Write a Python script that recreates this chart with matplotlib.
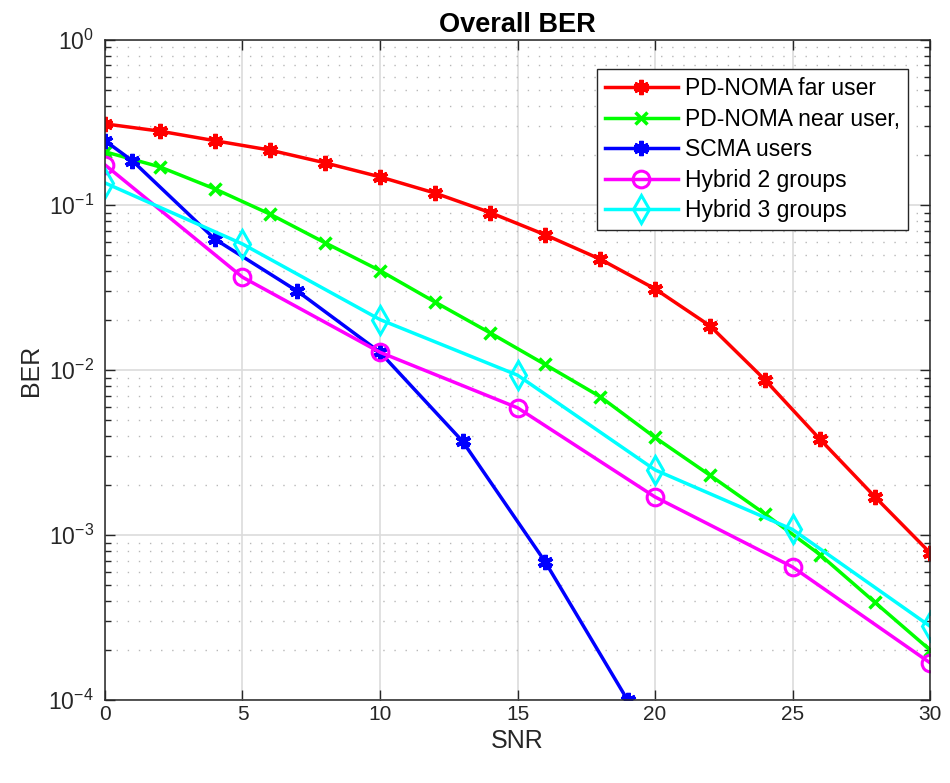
import numpy as np
import matplotlib
matplotlib.use("Agg")
import matplotlib.pyplot as plt
from matplotlib.ticker import LogLocator, MultipleLocator

plt.rcParams['font.family'] = ['Liberation Sans', 'DejaVu Sans']
plt.rcParams['mathtext.fontset'] = 'custom'
plt.rcParams['mathtext.rm'] = 'Liberation Sans'
plt.rcParams['mathtext.it'] = 'Liberation Sans:italic'

# SNR points per curve
snr_far = [0, 2, 4, 6, 8, 10, 12, 14, 16, 18, 20, 22, 24, 26, 28, 30]
ber_far = [0.31, 0.28, 0.245, 0.215, 0.18, 0.148, 0.118, 0.090, 0.066, 0.047,
           0.031, 0.0185, 0.0087, 0.0038, 0.0017, 0.00078]

snr_near = [0, 2, 4, 6, 8, 10, 12, 14, 16, 18, 20, 22, 24, 26, 28, 30]
ber_near = [0.21, 0.17, 0.125, 0.088, 0.059, 0.040, 0.0258, 0.0168, 0.0108, 0.0069,
            0.0039, 0.0023, 0.00134, 0.00076, 0.00039, 0.000201]

snr_scma = [0, 1, 4, 7, 10, 13, 16, 19]
ber_scma = [0.245, 0.185, 0.062, 0.030, 0.0128, 0.0037, 0.00069, 0.0001]

snr_h2 = [0, 5, 10, 15, 20, 25, 30]
ber_h2 = [0.175, 0.0365, 0.0128, 0.0059, 0.0017, 0.00064, 0.000168]

snr_h3 = [0, 5, 10, 15, 20, 25, 30]
ber_h3 = [0.136, 0.058, 0.0202, 0.0093, 0.00248, 0.00108, 0.00028]

labels = ['PD-NOMA far user', 'PD-NOMA near user,', 'SCMA users',
          'Hybrid 2 groups', 'Hybrid 3 groups']

fig = plt.figure(figsize=(9.5, 7.83), dpi=100)
ax = fig.add_axes([0.1105, 0.106, 0.8685, 0.843])

lw = 2.5
asterisk = (6, 2, 0)
ax.semilogy(snr_far, ber_far, color=(1, 0, 0), lw=lw, marker=asterisk,
            ms=11, mew=3, label=labels[0])
ax.semilogy(snr_near, ber_near, color=(0, 1, 0), lw=lw, marker='x',
            ms=9, mew=2.5, label=labels[1])
ax.semilogy(snr_scma, ber_scma, color=(0, 0, 1), lw=lw, marker=asterisk,
            ms=11, mew=3, label=labels[2])
ax.semilogy(snr_h2, ber_h2, color=(1, 0, 1), lw=lw, marker='o', ms=12,
            mfc='none', mew=2.2, label=labels[3])
ax.semilogy(snr_h3, ber_h3, color=(0, 1, 1), lw=lw, marker='d', ms=14,
            mfc='none', mew=2.2, label=labels[4])

ax.set_xlim(0, 30)
ax.set_ylim(1e-4, 1)
ax.xaxis.set_major_locator(MultipleLocator(5))
ax.yaxis.set_major_locator(LogLocator(base=10, numticks=10))
ax.yaxis.set_minor_locator(LogLocator(base=10, subs=np.arange(2, 10), numticks=10))

ax.grid(True, which='major', color='#dcdcdc', lw=1.2, ls='-')
ax.grid(True, which='minor', axis='y', color='#b8b8b8', lw=1.0, ls=(0, (1, 7)))
ax.set_axisbelow(True)

ax.tick_params(which='both', direction='in', top=True, right=True,
               labelsize=15, colors='#262626', labelcolor='#262626')
ax.tick_params(axis='y', which='major', labelsize=16.5, pad=8)
ax.tick_params(which='major', length=7, width=1)
ax.tick_params(which='minor', length=4, width=1)
for s in ax.spines.values():
    s.set_color('#262626')
    s.set_linewidth(1.1)

ax.set_title('Overall BER', fontsize=19.5, fontweight='bold', pad=6)
ax.set_xlabel('SNR', fontsize=18, color='#262626', labelpad=4)
ax.set_ylabel('BER', fontsize=18, color='#262626', labelpad=4)

leg = ax.legend(loc='upper right', bbox_to_anchor=(0.973, 0.956),
                borderaxespad=0, fontsize=16.5, handlelength=3.2,
                fancybox=False, framealpha=1, edgecolor='#262626',
                labelspacing=0.33, handletextpad=0.3, borderpad=0.35)
leg.get_frame().set_linewidth(1.0)

fig.savefig('out.png', dpi=100)
